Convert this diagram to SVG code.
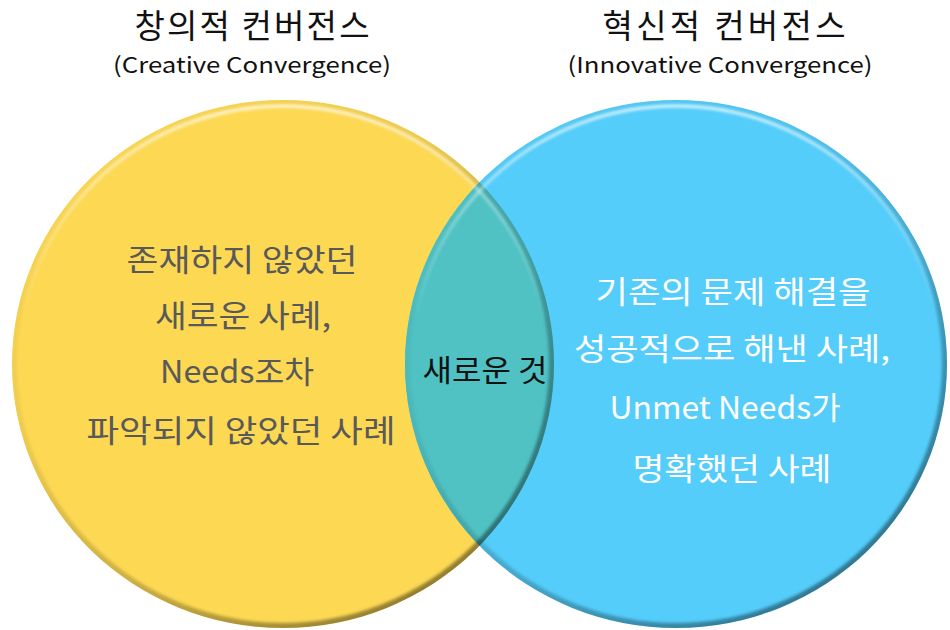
<svg xmlns="http://www.w3.org/2000/svg" width="950" height="630" viewBox="0 0 950 630">
  <style>
    .kr { font-family: "Noto Sans CJK KR", "Noto Sans", sans-serif; }
    .title { font-size: 33px; fill: #111111; }
    .sub { font-size: 22px; fill: #111111; }
    .body { font-size: 31px; }
    .dark { fill: #595959; }
    .light { fill: #ffffff; }
    .mid { font-size: 30px; fill: #111111; }
  </style>
  <defs>
    <clipPath id="clipCreative"><ellipse cx="283" cy="364" rx="271" ry="264"/></clipPath>
    <clipPath id="clipInnovative"><ellipse cx="676" cy="364" rx="271" ry="264"/></clipPath>
    <!-- edge shading: clear towards the top-left, dark towards the bottom-right -->
    <linearGradient id="rimShade" x1="0.1" y1="0" x2="0.9" y2="1">
      <stop offset="0" stop-color="#000" stop-opacity="0"/>
      <stop offset="0.35" stop-color="#000" stop-opacity="0.06"/>
      <stop offset="0.6" stop-color="#000" stop-opacity="0.18"/>
      <stop offset="1" stop-color="#000" stop-opacity="0.5"/>
    </linearGradient>
    <!-- glossy band just inside the upper rim -->
    <linearGradient id="rimGloss" x1="0" y1="0" x2="0" y2="1">
      <stop offset="0" stop-color="#fff" stop-opacity="0.8"/>
      <stop offset="0.2" stop-color="#fff" stop-opacity="0.35"/>
      <stop offset="0.42" stop-color="#fff" stop-opacity="0"/>
    </linearGradient>
    <filter id="soft" x="-5%" y="-5%" width="110%" height="110%">
      <feGaussianBlur stdDeviation="1.6"/>
    </filter>
  </defs>

  <!-- circle fills -->
  <g id="node-creative">
    <ellipse cx="283" cy="364" rx="271" ry="264" fill="#FCD853"/>
  </g>
  <g id="node-innovative">
    <ellipse cx="676" cy="364" rx="271" ry="264" fill="#54CDFA"/>
  </g>
  <g id="node-overlap">
    <ellipse cx="676" cy="364" rx="271" ry="264" fill="#50C2C4" clip-path="url(#clipCreative)"/>
  </g>

  <!-- bevel rims -->
  <g id="rims">
    <g clip-path="url(#clipCreative)">
      <ellipse cx="283" cy="364" rx="271" ry="264" fill="none" stroke="url(#rimShade)" stroke-width="10" filter="url(#soft)"/>
      <ellipse cx="283" cy="364" rx="265" ry="258" fill="none" stroke="url(#rimGloss)" stroke-width="3" filter="url(#soft)"/>
    </g>
    <g clip-path="url(#clipInnovative)">
      <ellipse cx="676" cy="364" rx="271" ry="264" fill="none" stroke="url(#rimShade)" stroke-width="10" filter="url(#soft)"/>
      <ellipse cx="676" cy="364" rx="265" ry="258" fill="none" stroke="url(#rimGloss)" stroke-width="3" filter="url(#soft)"/>
    </g>
  </g>

  <!-- headings -->
  <g id="title-creative" class="kr" text-anchor="middle">
    <text class="title" x="252" y="38" textLength="235" lengthAdjust="spacing">창의적 컨버전스</text>
    <text class="sub" x="252" y="73" textLength="278" lengthAdjust="spacingAndGlyphs">(Creative Convergence)</text>
  </g>
  <g id="title-innovative" class="kr" text-anchor="middle">
    <text class="title" x="724" y="38" textLength="243" lengthAdjust="spacing">혁신적 컨버전스</text>
    <text class="sub" x="720" y="73" textLength="305" lengthAdjust="spacingAndGlyphs">(Innovative Convergence)</text>
  </g>

  <!-- circle contents -->
  <g id="label-creative" class="kr body dark" text-anchor="middle">
    <text x="242" y="271" textLength="231" lengthAdjust="spacingAndGlyphs">존재하지 않았던</text>
    <text x="243" y="327" textLength="176" lengthAdjust="spacingAndGlyphs">새로운 사례,</text>
    <text x="237" y="383" textLength="154" lengthAdjust="spacingAndGlyphs">Needs조차</text>
    <text x="241" y="442" textLength="309" lengthAdjust="spacingAndGlyphs">파악되지 않았던 사례</text>
  </g>
  <g id="label-innovative" class="kr body light" text-anchor="middle">
    <text x="733" y="303" textLength="275" lengthAdjust="spacingAndGlyphs">기존의 문제 해결을</text>
    <text x="732" y="360" textLength="316" lengthAdjust="spacingAndGlyphs">성공적으로 해낸 사례,</text>
    <text x="725" y="419" textLength="231" lengthAdjust="spacingAndGlyphs">Unmet Needs가</text>
    <text x="732" y="480" textLength="199" lengthAdjust="spacingAndGlyphs">명확했던 사례</text>
  </g>
  <g id="label-overlap" class="kr" text-anchor="middle">
    <text class="mid" x="485" y="381" textLength="125" lengthAdjust="spacingAndGlyphs">새로운 것</text>
  </g>
</svg>
